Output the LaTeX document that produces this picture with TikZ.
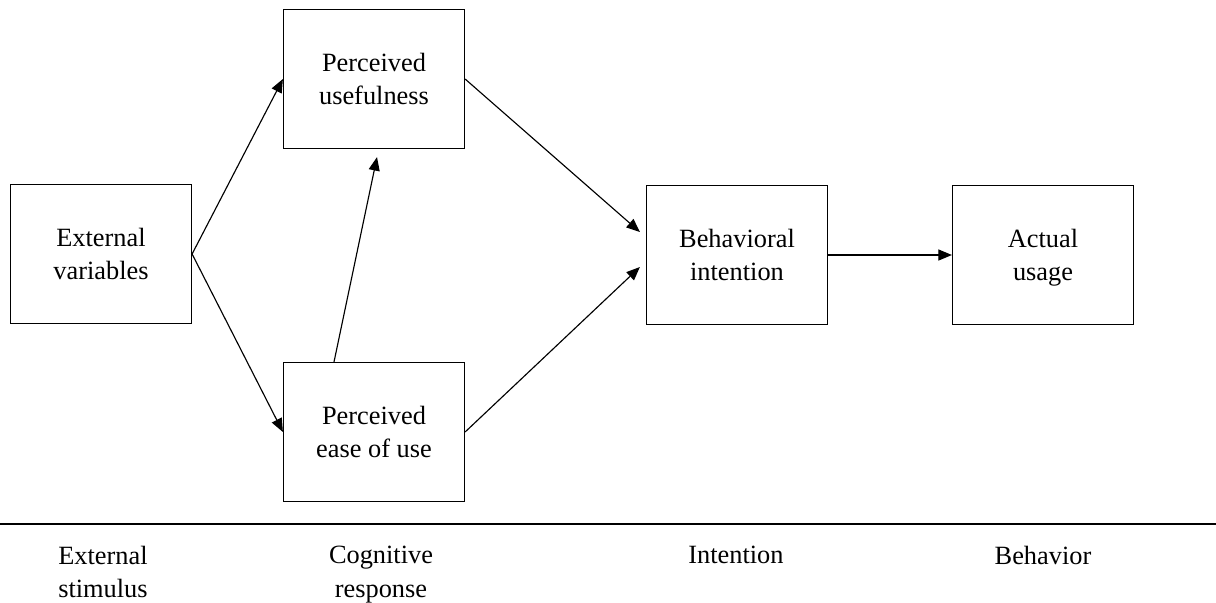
\documentclass[tikz,border=0pt]{standalone}
\usepackage{fontspec}
\setmainfont{Liberation Serif}
\usetikzlibrary{arrows.meta}
\tikzset{
  box/.style={draw,line width=0.7pt,minimum width=3.62cm,minimum height=2.78cm,align=center,text depth=0pt,font=\fontsize{15}{19}\selectfont},
  stage/.style={align=center,anchor=north,font=\fontsize{15}{19}\selectfont},
  arr/.style={-{Triangle[length=0.27cm,width=0.22cm]},line width=0.65pt}
}

\begin{document}
\begin{tikzpicture}[x=0.02cm,y=-0.02cm]
\useasboundingbox (0,0) rectangle (1216,602);

\node[box] (ev) at (101,254) {External\\variables};
\node[box] (pu) at (374,79) {Perceived\\usefulness};
\node[box] (peou) at (374,432) {Perceived\\ease of use};
\node[box] (bi) at (737,255) {Behavioral\\intention};
\node[box] (au) at (1043,255) {Actual\\usage};

\draw[arr] (ev.east) -- (pu.west);
\draw[arr] (ev.east) -- (peou.west);
\draw[arr] ([xshift=-0.8cm]peou.north) -- ([xshift=0.06cm,yshift=-0.16cm]pu.south);
\draw[arr] (pu.east) -- ([xshift=-0.12cm,yshift=0.46cm]bi.west);
\draw[arr] (peou.east) -- ([xshift=-0.12cm,yshift=-0.24cm]bi.west);
\draw[arr] (bi.east) -- (au.west);

% stages
\coordinate (l) at (0,524);
\coordinate (r) at (1216,524);
\draw[line width=1.1pt] (l) -- (r);

\node[stage] (s1) at (103,540) {External\\stimulus};
\node[stage] (s2) at (381,540) {Cognitive\\response};
\node[stage] (s3) at (736,540) {Intention};
\node[stage] (s4) at (1043,540) {Behavior};
\end{tikzpicture}
\end{document}
